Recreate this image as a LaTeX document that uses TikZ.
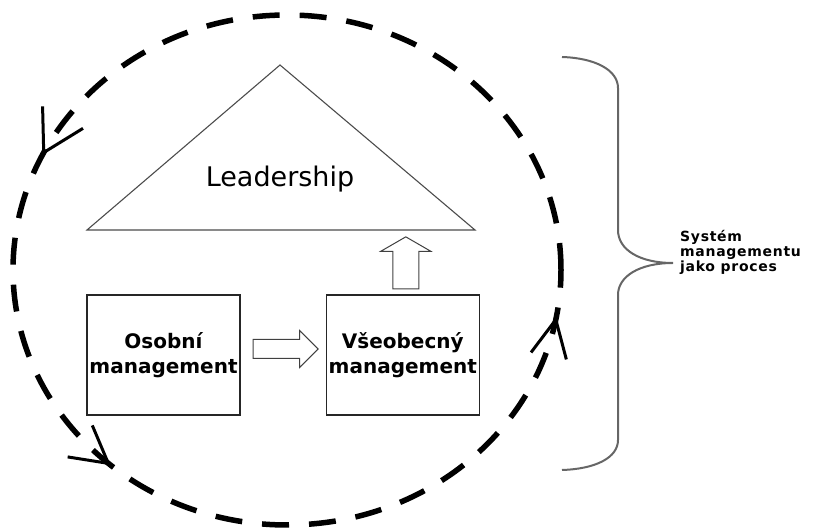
\documentclass[tikz,border=0pt]{standalone}
\usepackage{fontspec}
\setmainfont{DejaVu Sans}
\usetikzlibrary{positioning,shapes.arrows,arrows.meta,decorations.markings}

\begin{document}
\begin{tikzpicture}[x=1pt,y=1pt]
\tikzstyle{box} = [draw=black!85, line width=1.3pt, minimum width=153pt, minimum height=120pt, inner sep=0pt, align=center, font=\bfseries\fontsize{20}{25.5}\selectfont]
\tikzstyle{hollow} = [single arrow, draw=black!75, line width=1pt, inner xsep=0pt]
\tikzstyle{barb} = [decoration={markings,
    mark=at position 0.428 with {\arrow{Straight Barb[length=40pt,width=46pt,line width'=3pt]}},
    mark=at position 0.636 with {\arrow{Straight Barb[length=36pt,width=40pt,line width'=3pt]}},
    mark=at position 0.972 with {\arrow{Straight Barb[length=37pt,width=36pt,line width'=3pt]}}},
    postaction={decorate}]
\useasboundingbox (0,0) rectangle (815,530);
% trojuhelnik
\coordinate (apex) at (280,465);
\coordinate (baseL) at (87,300);
\coordinate (baseR) at (475,300);
\draw[draw=black!70, line width=1.1pt] (baseL) -- (apex) -- (baseR) -- cycle;
\node[anchor=base, font=\fontsize{27}{30}\selectfont] (lead) at (280,343) {Leadership};
\node[box] (osobni) at (163.5,175) {Osobní\\management};
\node[box, right=85pt of osobni] (vseob) {Všeobecný\\management};
\node[hollow, minimum height=65pt, inner ysep=9pt, single arrow head extend=9pt,
    right=12pt of osobni.east, yshift=6pt] (toward) {};
\node[hollow, rotate=90, anchor=tail, minimum height=52pt, inner ysep=12.5pt,
    single arrow head extend=12pt, single arrow tip angle=120] (upward) at ([xshift=3pt,yshift=5pt]vseob.north) {};
% kruh procesu
\draw[line width=5.5pt, dash pattern=on 27pt off 20pt, barb] (561,260) arc[start angle=0, end angle=360, x radius=274, y radius=255];
% zavorka
\coordinate (bracetip) at (673,267);
\draw[draw=black!60, line width=2pt] (562,473) .. controls (595,472) and (618,460) .. (618,442) -- (618,300)
    .. controls (618,280) and (640,267) .. (bracetip) .. controls (640,267) and (618,254) .. (618,235)
    -- (618,90) .. controls (618,72) and (595,61) .. (562,60);
\node[anchor=west, align=left, inner sep=0pt, font=\bfseries\fontsize{14}{15}\selectfont\addfontfeatures{LetterSpace=5}] (sysproc) at ([xshift=7pt,yshift=11pt]bracetip) {Systém\\managementu\\jako proces};
\end{tikzpicture}
\end{document}
